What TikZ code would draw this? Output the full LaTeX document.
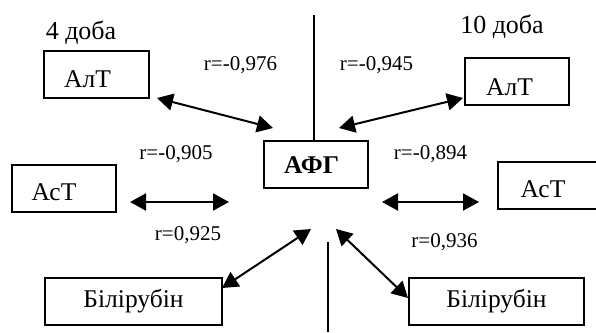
\documentclass[tikz,border=0pt]{standalone}
\usepackage{fontspec}
\setmainfont{Liberation Serif}
\usetikzlibrary{arrows.meta}
\tikzset{
  box/.style={draw, line width=1.6pt, minimum height=47pt, inner sep=0pt},
  txt/.style={anchor=base, inner sep=0pt, font=\fontsize{25.5}{30}\selectfont},
  btxt/.style={txt, font=\fontsize{25.5}{30}\selectfont\bfseries},
  rlab/.style={anchor=base, inner sep=0pt, font=\fontsize{21}{24}\selectfont},
  dlab/.style={anchor=base, inner sep=0pt, font=\fontsize{26}{30}\selectfont},
  link/.style={line width=2pt, {Triangle[length=16pt,width=17pt]}-{Triangle[length=16pt,width=17pt]}},
  axis/.style={line width=1.8pt}
}
\begin{document}
\begin{tikzpicture}[x=1pt,y=-1pt]
\useasboundingbox (0,0) rectangle (596,332);
\begin{scope}
\clip (0,0) rectangle (596,332);
% boxes
\node[box, minimum width=105pt] (alt1) at (96.5,74.5) {};
\node[box, minimum width=104pt] (alt2) at (517,81.5) {};
\node[box, minimum width=104pt] (ast1) at (64,188.5) {};
\node[box, minimum width=104pt] (ast2) at (550,185.5) {};
\node[box, minimum width=104pt] (afg) at (316,164.5) {};
\node[box, minimum width=177pt] (bil1) at (133.5,301.5) {};
\node[box, minimum width=175pt] (bil2) at (496.5,301.5) {};
\end{scope}
% box texts
\node[txt] (alt1t) at (87.5,87) {АлТ};
\node[txt] (alt2t) at (509.5,95) {АлТ};
\node[txt] (ast1t) at (54,200) {АсТ};
\node[txt] (ast2t) at (543,197) {АсТ};
\node[btxt] (afgt) at (311.5,173) {АФГ};
\node[txt] (bil1t) at (133.5,307) {Білірубін};
\node[txt] (bil2t) at (496.5,307) {Білірубін};
% day labels
\node[dlab] (d4) at (81,39) {4 доба};
\node[dlab] (d10) at (502,33) {10 доба};
% r labels
\node[rlab] (r1) at (240.5,70) {r=-0,976};
\node[rlab] (r2) at (376.5,70) {r=-0,945};
\node[rlab] (r3) at (176,159) {r=-0,905};
\node[rlab] (r4) at (430.5,159) {r=-0,894};
\node[rlab] (r5) at (188,240) {r=0,925};
\node[rlab] (r6) at (444.5,247) {r=0,936};
% arrow ends
\coordinate (a1s) at (157,98);  \coordinate (a1e) at (273,128);
\coordinate (a2s) at (339,128); \coordinate (a2e) at (463,98);
\coordinate (a3s) at (130,202); \coordinate (a3e) at (229,202);
\coordinate (a4s) at (382,202); \coordinate (a4e) at (479,202);
\coordinate (a5s) at (222,288); \coordinate (a5e) at (311,229);
\coordinate (a6s) at (336,229); \coordinate (a6e) at (408,298);
\coordinate (vtop) at (314,15);
\coordinate (vb1) at (328,242);
\coordinate (vb2) at (328,332);
% connectors
\draw[link] (a1s) -- (a1e);
\draw[link] (a2s) -- (a2e);
\draw[link] (a3s) -- (a3e);
\draw[link] (a4s) -- (a4e);
\draw[link] (a5s) -- (a5e);
\draw[link] (a6s) -- (a6e);
\draw[axis] (vtop) -- (vtop |- afg.north);
\draw[axis] (vb1) -- (vb2);
\end{tikzpicture}
\end{document}
